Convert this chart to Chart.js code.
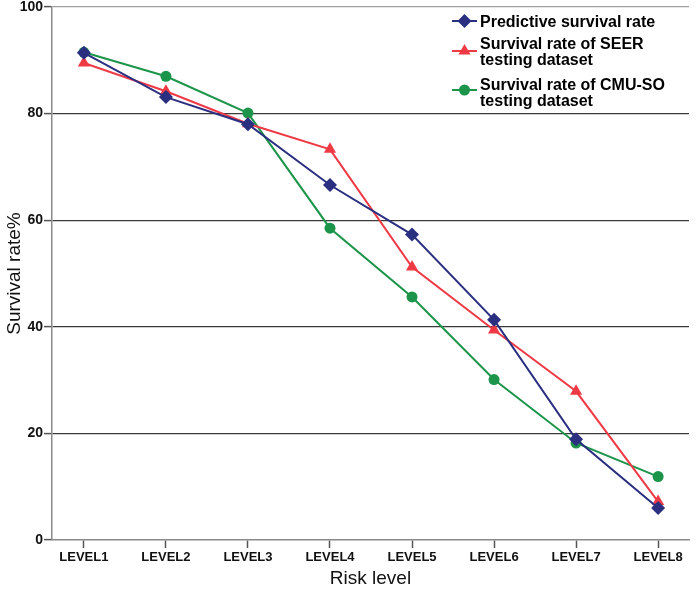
<!DOCTYPE html>
<html>
<head>
<meta charset="utf-8">
<script src="https://cdn.jsdelivr.net/npm/chart.js@4/dist/chart.umd.min.js"></script>
<style>
  html, body { margin: 0; padding: 0; background: #ffffff; }
  #wrap { position: relative; width: 696px; height: 591px; }
</style>
</head>
<body>
<div id="wrap"><canvas id="c" width="696" height="591"></canvas></div>
<script>
// ---- data ----
const categories = ["LEVEL1", "LEVEL2", "LEVEL3", "LEVEL4", "LEVEL5", "LEVEL6", "LEVEL7", "LEVEL8"];
const predictive = [91.4, 83.1, 78.0, 66.6, 57.3, 41.3, 18.9, 6.0];
const seer       = [89.5, 84.2, 78.1, 73.3, 51.2, 39.4, 27.9, 7.2];
const cmuso      = [91.5, 87.0, 80.1, 58.5, 45.6, 30.1, 18.2, 11.9];
const yTicks = [0, 20, 40, 60, 80, 100];
const seriesNames = ["Predictive survival rate", "Survival rate of SEER testing dataset", "Survival rate of CMU-SO testing dataset"];
const legendLines = [["Predictive survival rate"], ["Survival rate of SEER", "testing dataset"], ["Survival rate of CMU-SO", "testing dataset"]];
const xTitle = "Risk level";
const yTitle = "Survival rate%";

const toPts = arr => arr.map((v, i) => ({ x: i + 1, y: v }));

const BLUE = "#2b2f80", RED = "#ee3a45", GREEN = "#1c944a";
const FONT = "'Liberation Sans', Arial, Helvetica, sans-serif";

function drawMarker(ctx, style, x, y, r, color) {
  ctx.save();
  ctx.fillStyle = color;
  ctx.beginPath();
  if (style === 'rectRot') {
    ctx.moveTo(x, y - r); ctx.lineTo(x + r, y); ctx.lineTo(x, y + r); ctx.lineTo(x - r, y);
  } else if (style === 'triangle') {
    const s = r * Math.sqrt(3);
    ctx.moveTo(x, y - r); ctx.lineTo(x + s / 2, y + r / 2); ctx.lineTo(x - s / 2, y + r / 2);
  } else {
    ctx.arc(x, y, r, 0, Math.PI * 2);
  }
  ctx.closePath();
  ctx.fill();
  ctx.restore();
}

const legendPlugin = {
  id: 'customLegend',
  afterDraw(chart) {
    const ctx = chart.ctx;
    const items = [
      { color: BLUE, style: 'rectRot', r: 7, markY: 21, baselines: [27] },
      { color: RED, style: 'triangle', r: 7, markY: 51, baselines: [49, 65] },
      { color: GREEN, style: 'circle', r: 5.5, markY: 90, baselines: [90, 106] }
    ];
    items.forEach((it, k) => {
      ctx.save();
      ctx.strokeStyle = it.color;
      ctx.lineWidth = 2;
      ctx.beginPath();
      ctx.moveTo(452, it.markY); ctx.lineTo(477, it.markY);
      ctx.stroke();
      ctx.restore();
      drawMarker(ctx, it.style, 464.5, it.markY, it.r, it.color);
      ctx.save();
      ctx.fillStyle = '#000';
      ctx.font = "bold 16px " + FONT;
      ctx.textBaseline = 'alphabetic';
      ctx.textAlign = 'left';
      legendLines[k].forEach((t, j) => ctx.fillText(t, 480, it.baselines[j]));
      ctx.restore();
    });
  }
};

new Chart(document.getElementById('c'), {
  type: 'line',
  data: {
    datasets: [
      { label: seriesNames[0], data: toPts(predictive), borderColor: BLUE, backgroundColor: BLUE,
        borderWidth: 2, pointStyle: 'rectRot', pointRadius: 7, pointBorderWidth: 0, pointBackgroundColor: BLUE, tension: 0 },
      { label: seriesNames[1], data: toPts(seer), borderColor: RED, backgroundColor: RED,
        borderWidth: 2, pointStyle: 'triangle', pointRadius: 7, pointBorderWidth: 0, pointBackgroundColor: RED, tension: 0 },
      { label: seriesNames[2], data: toPts(cmuso), borderColor: GREEN, backgroundColor: GREEN,
        borderWidth: 2, pointStyle: 'circle', pointRadius: 5.5, pointBorderWidth: 0, pointBackgroundColor: GREEN, tension: 0 }
    ]
  },
  options: {
    responsive: false,
    animation: false,
    devicePixelRatio: 1,
    layout: { padding: { top: 6, right: 5, left: 0, bottom: 0 } },
    plugins: { legend: { display: false }, tooltip: { enabled: false } },
    scales: {
      x: {
        type: 'linear',
        min: 0.6111,
        max: 8.3767,
        afterBuildTicks(scale) { scale.ticks = categories.map((_, i) => ({ value: i + 1 })); },
        afterFit(scale) { scale.height = 51; scale.paddingLeft = 0; scale.paddingRight = 0; },
        border: { display: true, color: '#8a8a8a', width: 1.5 },
        grid: { drawOnChartArea: false, drawTicks: true, tickLength: 8, tickColor: '#555', tickWidth: 1.5 },
        ticks: {
          autoSkip: false, maxRotation: 0, minRotation: 0, padding: 2, color: '#111',
          font: { family: FONT, size: 13, weight: 'bold' },
          callback: (v) => categories[Math.round(v) - 1]
        },
        title: { display: true, text: xTitle, color: '#111', font: { family: FONT, size: 19, lineHeight: 1.2 }, padding: { top: 0, bottom: 1 } }
      },
      y: {
        type: 'linear',
        min: 0,
        max: 100,
        afterBuildTicks(scale) { scale.ticks = yTicks.map(v => ({ value: v })); },
        afterFit(scale) { scale.width = 52; scale.paddingTop = 0; scale.paddingBottom = 0; },
        border: { display: true, color: '#8a8a8a', width: 1.5 },
        grid: {
          drawTicks: true, tickLength: 8, tickColor: '#555', tickWidth: 1.5, lineWidth: 1.2,
          color: (c) => c.tick && c.tick.value === 0 ? 'rgba(0,0,0,0)' : (c.tick && c.tick.value === 100 ? '#a0a0a0' : '#3a3a3a')
        },
        ticks: {
          padding: 1, color: '#111',
          font: { family: FONT, size: 14, weight: 'bold' },
          callback: (v) => String(v)
        },
        title: { display: true, text: yTitle, color: '#111', font: { family: FONT, size: 19, lineHeight: 1.2 }, padding: { top: 3, bottom: 0 } }
      }
    }
  },
  plugins: [legendPlugin]
});
</script>
</body>
</html>
